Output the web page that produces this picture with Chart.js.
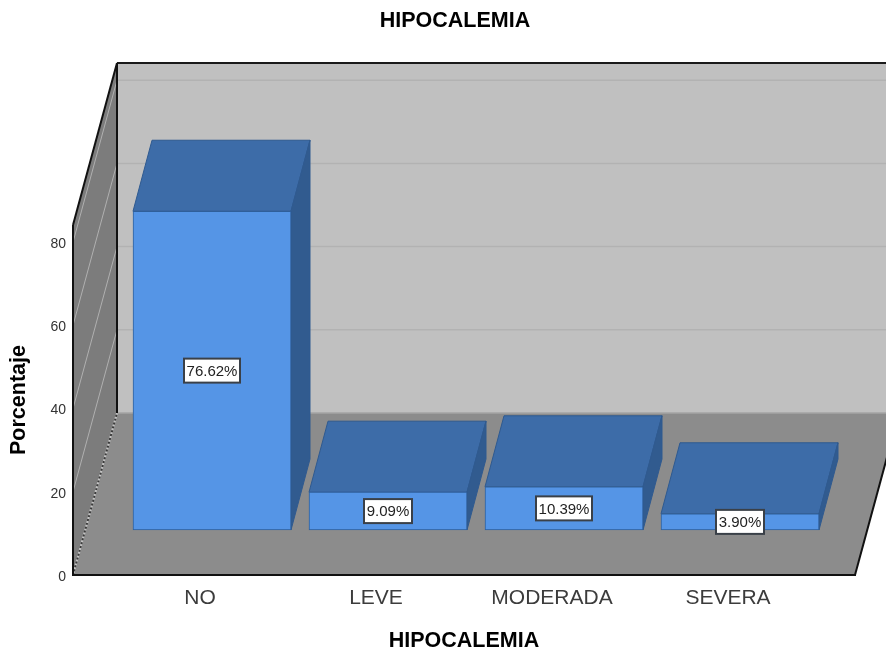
<!DOCTYPE html>
<html>
<head>
<meta charset="utf-8">
<title>HIPOCALEMIA</title>
<script src="https://cdn.jsdelivr.net/npm/chart.js@4"></script>
<style>
  html, body { margin: 0; padding: 0; background: #fff; }
  #wrap { width: 886px; height: 650px; }
</style>
</head>
<body>
<div id="wrap"><canvas id="hipocalemia"></canvas></div>
<script>
const categories = ['NO', 'LEVE', 'MODERADA', 'SEVERA'];
const percentages = [76.62, 9.09, 10.39, 3.90];
const yTicks = [0, 20, 40, 60, 80];
const yMax = 84.13;
const chartTitle = 'HIPOCALEMIA';

const FONT = '"Liberation Sans", Arial, sans-serif';

// pseudo 3D room: floor sticks out past the category band, then runs back
const ROOM_SIDE = 39;
const ROOM_DX = 44;
const ROOM_DY = 162;
// bars sit part way along the floor and have their own depth
const BAR_SHIFT_X = 12;
const BAR_SHIFT_Y = 45;
const BAR_DX = 19;
const BAR_DY = 71;

function poly(ctx, points, fill, stroke, lineWidth) {
  ctx.beginPath();
  points.forEach((p, i) => (i ? ctx.lineTo(p[0], p[1]) : ctx.moveTo(p[0], p[1])));
  ctx.closePath();
  if (fill) {
    ctx.fillStyle = fill;
    ctx.fill();
  }
  if (stroke) {
    ctx.strokeStyle = stroke;
    ctx.lineWidth = lineWidth || 1;
    ctx.stroke();
  }
}

function line(ctx, x1, y1, x2, y2, color, width) {
  ctx.beginPath();
  ctx.moveTo(x1, y1);
  ctx.lineTo(x2, y2);
  ctx.strokeStyle = color;
  ctx.lineWidth = width;
  ctx.stroke();
}

const room3d = {
  id: 'room3d',
  beforeDatasetsDraw(chart) {
    const { ctx, chartArea, scales } = chart;
    const left = chartArea.left - ROOM_SIDE;
    const right = chartArea.right + ROOM_SIDE;
    const bottom = chartArea.bottom;
    const top = chartArea.top;
    const backX = left + ROOM_DX;
    const backBottom = bottom - ROOM_DY;
    const backTop = top - ROOM_DY;
    const far = chart.width + 20;

    ctx.save();
    poly(ctx, [[backX, backTop], [far, backTop], [far, backBottom], [backX, backBottom]], '#c0c0c0');
    poly(ctx, [[left, top], [backX, backTop], [backX, backBottom], [left, bottom]], '#7c7c7c');
    poly(ctx, [[left, bottom], [backX, backBottom], [right + ROOM_DX, backBottom], [right, bottom]], '#8c8c8c');

    yTicks.forEach(v => {
      if (v === 0) return;
      const y = scales.y.getPixelForValue(v);
      line(ctx, backX, y - ROOM_DY, far, y - ROOM_DY, '#b2b2b2', 1.5);
      line(ctx, left, y, backX, y - ROOM_DY, '#b0b0b0', 1);
    });

    // corner between left wall and floor
    line(ctx, left, bottom, backX, backBottom, '#c4c4c4', 2);
    ctx.setLineDash([2, 2]);
    line(ctx, left, bottom, backX, backBottom, '#3a3a3a', 2);
    ctx.setLineDash([]);

    line(ctx, backX, backBottom, far, backBottom, '#a4a4a4', 1.5);
    line(ctx, backX, backTop, far, backTop, '#1a1a1a', 2);
    line(ctx, backX, backTop, backX, backBottom, '#111', 2);
    line(ctx, left, top, backX, backTop, '#111', 2);
    line(ctx, left, top, left, bottom, '#111', 2);
    line(ctx, left - 1, bottom, right + 1, bottom, '#111', 2);
    line(ctx, right, bottom, right + ROOM_DX, backBottom, '#111', 2);
    ctx.restore();
  },
  beforeDatasetDraw(chart, args) {
    const { ctx } = chart;
    ctx.save();
    ctx.translate(BAR_SHIFT_X, -BAR_SHIFT_Y);
    // top and side faces go under the front face the library draws
    chart.getDatasetMeta(args.index).data.forEach(bar => {
      const x1 = bar.x - bar.width / 2;
      const x2 = bar.x + bar.width / 2;
      poly(ctx, [[x1, bar.y], [x1 + BAR_DX, bar.y - BAR_DY], [x2 + BAR_DX, bar.y - BAR_DY], [x2, bar.y]], '#3d6ca8', '#2f5a90', 1);
      poly(ctx, [[x2, bar.y], [x2 + BAR_DX, bar.y - BAR_DY], [x2 + BAR_DX, bar.base - BAR_DY], [x2, bar.base]], '#315b8f', '#2f5a90', 1);
    });
  },
  afterDatasetDraw(chart) {
    chart.ctx.restore();
  },
  afterDatasetsDraw(chart) {
    const { ctx, chartArea } = chart;
    ctx.save();
    ctx.font = '15px ' + FONT;
    ctx.textAlign = 'center';
    ctx.textBaseline = 'middle';
    chart.getDatasetMeta(0).data.forEach((bar, i) => {
      const text = percentages[i].toFixed(2) + '%';
      const cx = bar.x + BAR_SHIFT_X;
      const cy = (bar.y + bar.base) / 2 - BAR_SHIFT_Y;
      const w = Math.round(ctx.measureText(text).width) + 5;
      const h = 24;
      ctx.fillStyle = '#fff';
      ctx.fillRect(cx - w / 2, cy - h / 2, w, h);
      ctx.strokeStyle = '#3a4048';
      ctx.lineWidth = 2;
      ctx.strokeRect(cx - w / 2, cy - h / 2, w, h);
      ctx.fillStyle = '#222';
      ctx.fillText(text, cx, cy + 1);
    });
    // title sits a little left of the axis title
    ctx.font = 'bold 21.5px ' + FONT;
    ctx.fillStyle = '#000';
    ctx.fillText(chartTitle, (chartArea.left + chartArea.right) / 2 - 9, 21);
    ctx.restore();
  }
};

const chart = new Chart(document.getElementById('hipocalemia').getContext('2d'), {
  type: 'bar',
  data: {
    labels: categories,
    datasets: [{
      label: 'Porcentaje',
      data: percentages,
      backgroundColor: '#5595e6',
      borderColor: '#2f5f9a',
      borderWidth: 1,
      borderSkipped: false,
      barThickness: 158,
      clip: false
    }]
  },
  options: {
    responsive: true,
    maintainAspectRatio: false,
    animation: false,
    layout: {
      padding: { top: 225, right: 70, left: 0, bottom: 0 }
    },
    plugins: {
      legend: { display: false },
      tooltip: { enabled: false }
    },
    scales: {
      x: {
        grid: { display: false },
        border: { display: false },
        ticks: {
          color: '#3c3c3c',
          padding: 3,
          font: { family: FONT, size: 21 },
          maxRotation: 0,
          autoSkip: false
        },
        title: {
          display: true,
          text: chartTitle,
          color: '#000',
          font: { family: FONT, size: 21.5, weight: 'bold', lineHeight: 1 },
          padding: { top: 0, bottom: -2 }
        },
        afterFit(axis) {
          axis.height = 75;
        }
      },
      y: {
        min: 0,
        max: yMax,
        grid: { display: false },
        border: { display: false },
        afterBuildTicks(axis) {
          axis.ticks = yTicks.map(value => ({ value }));
        },
        ticks: {
          color: '#333',
          padding: 38,
          labelOffset: 2,
          font: { family: FONT, size: 14 }
        },
        title: {
          display: true,
          text: 'Porcentaje',
          color: '#000',
          font: { family: FONT, size: 21.5, weight: 'bold', lineHeight: 1 },
          padding: { top: 8, bottom: 0 }
        },
        afterFit(axis) {
          axis.width = 112;
        }
      }
    }
  },
  plugins: [room3d]
});
</script>
</body>
</html>
